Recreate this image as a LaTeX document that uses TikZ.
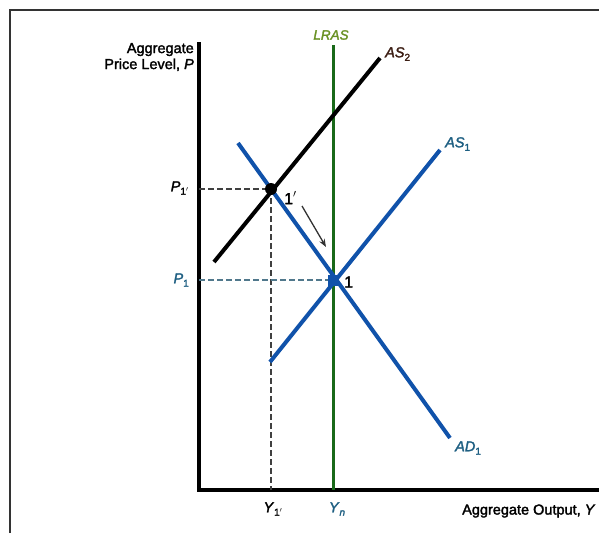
\documentclass[tikz,border=0pt]{standalone}
\usepackage{fontspec}
\setmainfont{Liberation Sans}
\newfontfamily\heavyfont[FakeBold=2]{Liberation Sans}
\usetikzlibrary{arrows.meta}
\definecolor{curveblue}{RGB}{16,82,170}
\definecolor{labelblue}{RGB}{30,95,130}
\definecolor{lrasgreen}{RGB}{25,105,25}
\definecolor{lraslabel}{RGB}{105,145,35}
\definecolor{asbrown}{RGB}{60,30,20}
\definecolor{dashblue}{RGB}{80,120,140}
\newcommand{\mysub}[1]{\raisebox{-0.45ex}{\fontsize{10}{10}\selectfont #1}}
\tikzset{
  axis/.style={line width=4pt, black},
  curve/.style={line width=4pt, curveblue},
  guide/.style={dashed, line width=1.4pt, dash pattern=on 6pt off 3pt},
  lab/.style={font=\heavyfont\fontsize{14.5}{16}\selectfont, inner sep=1pt},
}
\begin{document}
\begin{tikzpicture}[x=1pt,y=-1pt]
\useasboundingbox (0,0) rectangle (599,533);
% frame
\draw[line width=2pt, black!80] (10,533) -- (10,10) -- (599,10);
% axes
\coordinate (O) at (199,490);
\coordinate (Ytop) at (199,42);
\coordinate (Xend) at (599,490);
\draw[axis] (Ytop) -- (O) -- (Xend);
% LRAS
\coordinate (L1) at (333,45);
\coordinate (L0) at (333,490);
\draw[line width=3pt, lrasgreen] (L1) -- (L0);
\node[lab, text=lraslabel, font=\heavyfont\fontsize{13.5}{15}\selectfont\itshape] (lras) at (331,35) {LRAS};
% guide lines
\coordinate (pA) at (271,189);
\coordinate (pB) at (333,280);
\coordinate (yA) at (271,490);
\coordinate (axA) at (199,189);
\coordinate (axB) at (199,280);
\draw[guide, black!75] (axA) -- (pA) -- (yA);
\draw[guide, dashblue] (axB) -- (pB);
% AS2
\coordinate (as2a) at (214,262);
\coordinate (as2b) at (380,58);
\draw[line width=4pt, black] (as2a) -- (as2b);
\node[lab, text=asbrown, anchor=west] (as2) at (384,54) {\textit{AS}\mysub{2}};
% AS1
\coordinate (as1a) at (270,362);
\coordinate (as1b) at (440,150);
\draw[curve] (as1a) -- (as1b);
\node[lab, text=labelblue, anchor=west] (as1) at (444,144) {\textit{AS}\mysub{1}};
% AD1
\coordinate (ad1a) at (238,143);
\coordinate (ad1b) at (450,438);
\draw[curve] (ad1a) -- (ad1b);
\node[lab, text=labelblue, anchor=west] (ad1) at (454,448) {\textit{AD}\mysub{1}};
% points
\node[circle, fill=black, minimum size=12pt, inner sep=0pt] (n1p) at (pA) {};
\node[lab, anchor=west, font=\heavyfont\fontsize{16}{16}\selectfont] (l1p) at (283,198) {1$'$};
\node[rectangle, fill=curveblue, minimum size=11pt, inner sep=0pt] (n1) at (pB) {};
\node[lab, anchor=west, font=\heavyfont\fontsize{16}{16}\selectfont] (l1) at (343,282) {1};
% arrow
\coordinate (arS) at (302,206);
\coordinate (arE) at (326,247);
\draw[line width=1.3pt, black!80, -{Stealth[length=8pt,width=6pt]}] (arS) -- (arE);
% axis labels
\node[lab, anchor=east] (P1p) at (190,188) {\textit{P}\mysub{1$'$}};
\node[lab, anchor=east, text=labelblue] (P1) at (190,280) {\textit{P}\mysub{1}};
\node[lab] (Y1p) at (273,509) {\textit{Y}\mysub{1$'$}};
\node[lab, text=labelblue] (Yn) at (337,509) {\textit{Y}\mysub{\textit{n}}};
\node[lab, anchor=west] (xlab) at (461,511) {Aggregate Output, \textit{Y}};
\node[lab, anchor=east, align=right] (ylab) at (195,57) {Aggregate\\Price Level, \textit{P}};
\end{tikzpicture}
\end{document}
